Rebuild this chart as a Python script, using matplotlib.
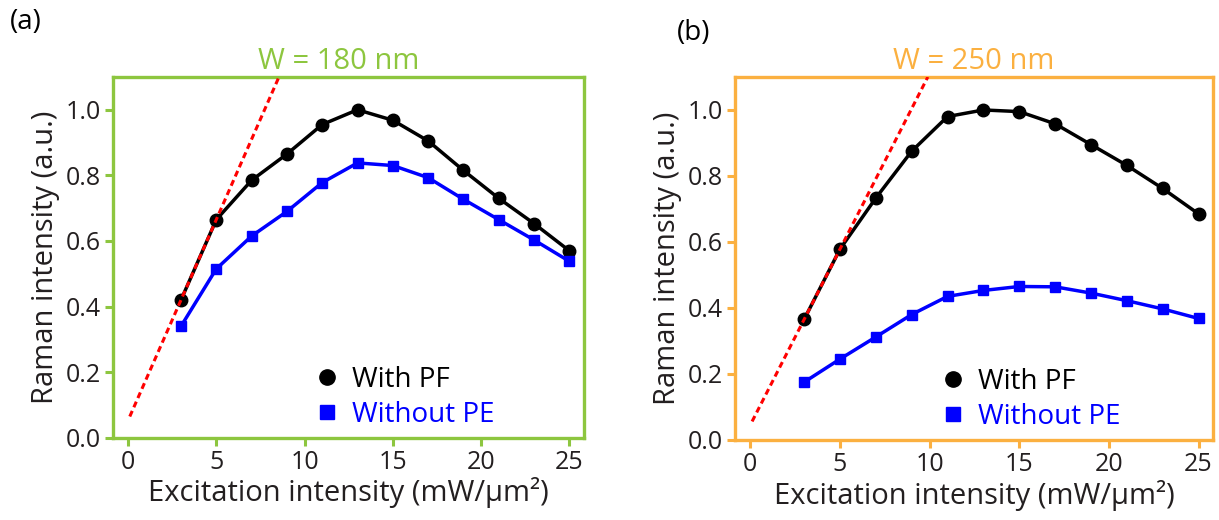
import numpy as np
import matplotlib
matplotlib.use("Agg")
import matplotlib.pyplot as plt
from matplotlib.lines import Line2D

plt.rcParams['font.family'] = ['Open Sans', 'DejaVu Sans']

# ─────────────────────────────────────────────
# DATA
# ─────────────────────────────────────────────
x_power = [3, 5, 7, 9, 11, 13, 15, 17, 19, 21, 23, 25]

a_with_pf = [0.42, 0.665, 0.785, 0.865, 0.955, 1.0, 0.968, 0.905, 0.815, 0.73, 0.653, 0.57]
a_without_pe = [0.34, 0.515, 0.615, 0.69, 0.778, 0.838, 0.83, 0.793, 0.727, 0.665, 0.603, 0.538]
a_fit_x = [0.1, 8.55]
a_fit_y = [0.065, 1.1]

b_with_pf = [0.365, 0.578, 0.733, 0.875, 0.98, 1.0, 0.995, 0.958, 0.895, 0.832, 0.762, 0.685]
b_without_pe = [0.175, 0.245, 0.312, 0.38, 0.435, 0.453, 0.465, 0.464, 0.445, 0.422, 0.397, 0.368]
b_fit_x = [0.1, 9.9]
b_fit_y = [0.056, 1.1]

x_ticks = [0, 5, 10, 15, 20, 25]
y_ticks = [0.0, 0.2, 0.4, 0.6, 0.8, 1.0]

GREEN = "#8dc63f"
ORANGE = "#fbb040"
TICK_TXT = "#231f20"

panels = [
    ("(a)", "W = 180 nm", GREEN, a_with_pf, a_without_pe, a_fit_x, a_fit_y),
    ("(b)", "W = 250 nm", ORANGE, b_with_pf, b_without_pe, b_fit_x, b_fit_y),
]

fig = plt.figure(figsize=(12.19, 5.2), dpi=100)
axes = [
    fig.add_axes([0.0927, 0.158, 0.386, 0.694]),
    fig.add_axes([0.603, 0.154, 0.392, 0.698]),
]
label_pos = [(0.008, 0.957), (0.555, 0.937)]
title_x = [0.48, 0.5]

for ax, (tag, title, col, wpf, wope, fx, fy), lp, tx in zip(axes, panels, label_pos, title_x):
    ax.plot(x_power, wpf, color="black", lw=2.5, marker="o", ms=9, zorder=3)
    ax.plot(x_power, wope, color="blue", lw=2.5, marker="s", ms=7.5, zorder=3)
    ax.plot(fx, fy, color="red", lw=2.2, ls=(0, (2, 1.3)), zorder=4)

    ax.set_xlim(-0.85, 25.8)
    ax.set_ylim(0.0, 1.1)
    ax.set_xticks(x_ticks)
    ax.set_yticks(y_ticks)
    ax.set_yticklabels([f"{v:.1f}" for v in y_ticks])

    for sp in ax.spines.values():
        sp.set_color(col)
        sp.set_linewidth(2.4)
    ax.tick_params(direction="out", length=5.5, width=2.2, color=col,
                   labelsize=18, labelcolor=TICK_TXT, pad=3)

    ax.set_xlabel("Excitation intensity (mW/µm²)", fontsize=21, color=TICK_TXT, labelpad=2)
    ax.set_ylabel("Raman intensity (a.u.)", fontsize=21, color=TICK_TXT, labelpad=4)
    ax.set_title(title, color=col, fontsize=21, pad=6, x=tx)

    handles = [
        Line2D([], [], color="black", marker="o", ls="none", ms=11),
        Line2D([], [], color="blue", marker="s", ls="none", ms=10),
    ]
    ax.legend(handles, ["With PF", "Without PE"], loc="lower left",
              bbox_to_anchor=(0.432, 0.025), frameon=False, fontsize=20,
              labelcolor=["black", "blue"], handletextpad=0.5,
              labelspacing=0.25, handlelength=0.8, borderpad=0,
              borderaxespad=0)

    fig.text(lp[0], lp[1], tag, fontsize=20, color="black", ha="left", va="center")

fig.savefig("out.png", dpi=100)
